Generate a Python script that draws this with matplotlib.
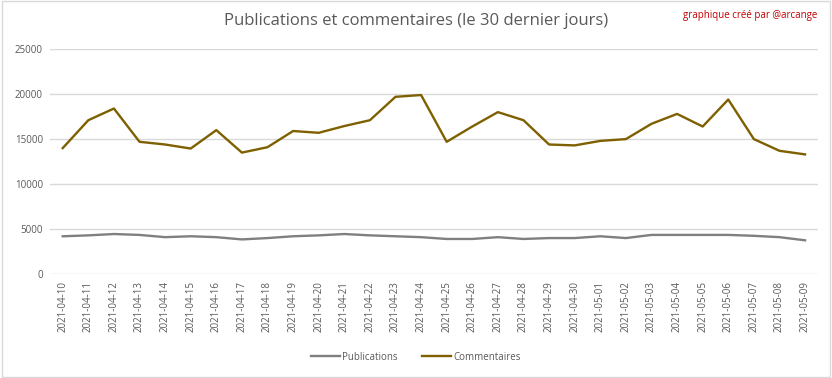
import matplotlib
matplotlib.use('Agg')
import matplotlib.pyplot as plt
from matplotlib.patches import Rectangle

dates = ['2021-04-10', '2021-04-11', '2021-04-12', '2021-04-13', '2021-04-14', '2021-04-15',
         '2021-04-16', '2021-04-17', '2021-04-18', '2021-04-19', '2021-04-20', '2021-04-21',
         '2021-04-22', '2021-04-23', '2021-04-24', '2021-04-25', '2021-04-26', '2021-04-27',
         '2021-04-28', '2021-04-29', '2021-04-30', '2021-05-01', '2021-05-02', '2021-05-03',
         '2021-05-04', '2021-05-05', '2021-05-06', '2021-05-07', '2021-05-08', '2021-05-09']

publications = [4200, 4300, 4450, 4350, 4100, 4200, 4100, 3850, 4000, 4200,
                4300, 4450, 4300, 4200, 4100, 3900, 3900, 4100, 3900, 4000,
                4000, 4200, 4000, 4350, 4350, 4350, 4350, 4250, 4100, 3750]

commentaires = [14000, 17100, 18400, 14700, 14400, 13950, 16000, 13500, 14100, 15900,
                15700, 16450, 17100, 19700, 19900, 14700, 16400, 18000, 17100, 14400,
                14300, 14800, 15000, 16700, 17800, 16400, 19400, 15000, 13700, 13300]

yticks = [0, 5000, 10000, 15000, 20000, 25000]

plt.rcParams['font.family'] = ['Open Sans', 'DejaVu Sans']

fig = plt.figure(figsize=(8.32, 3.78), dpi=100)
ax = fig.add_axes([0.060, 0.275, 0.923, 0.595])

xs = range(len(dates))
ax.plot(xs, publications, color='#7f7f7f', linewidth=1.7, label='Publications')
ax.plot(xs, commentaires, color='#7f6000', linewidth=1.7, label='Commentaires')

ax.set_ylim(0, 25000)
ax.set_yticks(yticks)
ax.set_yticklabels([str(v) for v in yticks], fontsize=7, color='#595959')
ax.set_xlim(-0.5, len(dates) - 0.5)
ax.set_xticks(list(xs))
ax.set_xticklabels(dates, rotation=90, fontsize=7, color='#595959')
ax.tick_params(axis='both', length=0, pad=5)
ax.grid(axis='y', color='#d9d9d9', linewidth=1)
ax.set_axisbelow(True)
for s in ax.spines.values():
    s.set_visible(False)

fig.text(0.500, 0.945, 'Publications et commentaires (le 30 dernier jours)',
         ha='center', va='center', fontsize=12, color='#595959')
fig.text(0.983, 0.958, 'graphique créé par @arcange',
         ha='right', va='center', fontsize=7, color='#c00000')

ax.legend(loc='center', ncol=2, frameon=False, fontsize=7, labelcolor='#595959',
          handlelength=3, handletextpad=0.2, columnspacing=2.5)
leg = ax.get_legend()
leg.set_bbox_to_anchor((0.5, 0.055), transform=fig.transFigure)

fig.patches.append(Rectangle((0.002, 0.003), 0.996, 0.994, transform=fig.transFigure,
                             fill=False, edgecolor='#d9d9d9', linewidth=1))

fig.savefig('out.png', dpi=100)
